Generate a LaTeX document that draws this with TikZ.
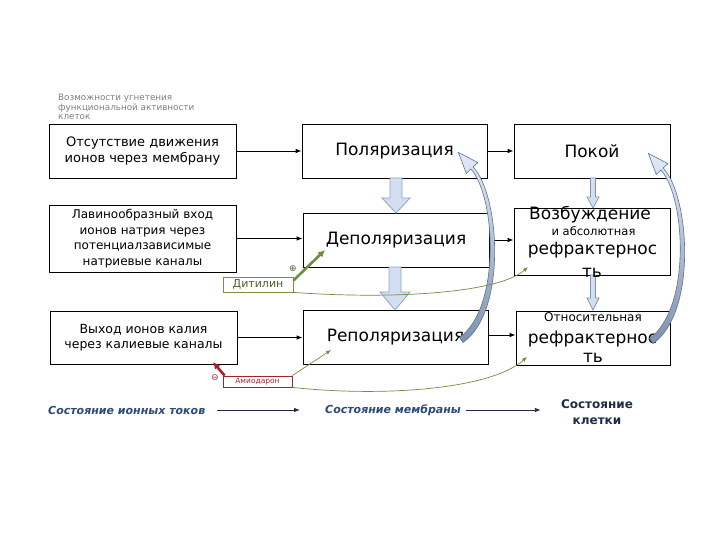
\documentclass[tikz,border=0pt]{standalone}
\usepackage{fontspec}
\setmainfont{DejaVu Sans}
\usetikzlibrary{arrows.meta,calc}
\definecolor{bfill}{HTML}{D3DEF1}
\definecolor{bedge}{HTML}{8FA3C4}
\definecolor{ctop}{HTML}{E2EAF7}
\definecolor{cbot}{HTML}{7F92AE}
\definecolor{cedge}{HTML}{5E7392}
\definecolor{grn}{HTML}{6E8F40}
\definecolor{grnbox}{HTML}{77933C}
\definecolor{grntxt}{HTML}{4F6228}
\definecolor{dred}{HTML}{A2232B}
\definecolor{navy}{HTML}{2F4A7A}
\definecolor{navyd}{HTML}{1E2C4A}
\tikzset{
  box/.style={draw=black, line width=0.8pt, inner sep=0pt, align=center},
  t17/.style={font=\fontsize{17}{20}\selectfont, inner sep=0pt},
  t12/.style={font=\fontsize{11.5}{14}\selectfont, inner sep=0pt},
  harr/.style={-{Latex[length=6pt,width=4.5pt]}, line width=0.8pt},
  barrow/.style={fill=bfill, draw=bedge, line width=0.8pt},
  sarrow/.style={fill=bfill, draw=bedge!90!black, line width=0.7pt},
  carrow/.style={top color=ctop, bottom color=cbot, draw=cedge, line width=0.6pt},
  gthin/.style={draw=grn, line width=0.7pt, -{Latex[length=5pt,width=4pt]}},
  gthick/.style={draw=grn, line width=2.6pt, -{Latex[length=7pt,width=7pt]}},
  rthick/.style={draw=dred, line width=2.6pt, -{Latex[length=7pt,width=7pt]}},
  lbl/.style={font=\fontsize{11}{13}\selectfont\bfseries\itshape, text=navy, inner sep=0pt},
  barr/.style={-{Latex[length=6pt,width=4.5pt]}, line width=0.8pt, draw=navyd}
}
\newcommand\curvarr[2]{%
  \begin{scope}[shift={(#1,#2)}]
    \path[carrow] (459.5,337.5) -- (463,342.5)
      .. controls (507,312) and (500,195) .. (473.1,167)
      -- (477.8,162.6) -- (458.4,152.4) -- (466.2,173.4) -- (470.9,169)
      .. controls (496,197) and (501,308) .. (459.5,337.5) -- cycle;
  \end{scope}}
\begin{document}
\begin{tikzpicture}[x=1pt,y=-1pt]
\useasboundingbox[fill=white] (0,0) rectangle (720,540);

% top-left note
\node[anchor=north west, align=left, inner sep=0pt, text=gray,
      font=\fontsize{8.8}{9.6}\selectfont] (note) at (58,94)
  {Возможности угнетения\\функциональной активности\\клеток};

% left column
\node[box, minimum width=187pt, minimum height=54pt, font=\fontsize{13}{16.5}\selectfont] (a) at (142.5,151)
  {Отсутствие движения\\ионов через мембрану};
\node[box, minimum width=187pt, minimum height=67pt, font=\fontsize{12}{15.5}\selectfont] (b) at (142.5,238.5)
  {Лавинообразный вход\\ионов натрия через\\потенциалзависимые\\натриевые каналы};
\node[box, minimum width=187pt, minimum height=53pt, font=\fontsize{12.5}{15}\selectfont] (c) at (143.5,337.5)
  {Выход ионов калия\\через калиевые каналы};

% middle column
\node[box, minimum width=185pt, minimum height=54pt, font=\fontsize{17}{20}\selectfont] (pol) at (394.5,151) {Поляризация};
\node[box, minimum width=186pt, minimum height=54pt, font=\fontsize{17}{20}\selectfont] (dep) at (396,240) {Деполяризация};
\node[box, minimum width=185pt, minimum height=54pt, font=\fontsize{17}{20}\selectfont] (rep) at (395.5,337) {Реполяризация};

% right column
\node[box, minimum width=156pt, minimum height=54pt, font=\fontsize{17}{20}\selectfont] (pok) at (592,151) {Покой};
\node[box, minimum width=156pt, minimum height=67pt] (voz) at (592,241.5) {};
\node[box, minimum width=154pt, minimum height=54pt] (otn) at (593,338) {};

% block arrows
\path[barrow] (390,178) -- (402,178) -- (402,198) -- (410,198) -- (396,213) -- (382,198) -- (390,198) -- cycle;
\path[barrow] (389,267) -- (401,267) -- (401,292) -- (410,292) -- (395,310) -- (380,292) -- (389,292) -- cycle;
\path[sarrow] (590.5,178) -- (595.5,178) -- (595.5,197) -- (599,197) -- (593,208) -- (587,197) -- (590.5,197) -- cycle;
\path[sarrow] (590.5,275) -- (595.5,275) -- (595.5,298) -- (599,298) -- (593,310) -- (587,298) -- (590.5,298) -- cycle;

% texts in right boxes
\node[t17, anchor=base] (voz1) at (590,219) {Возбуждение};
\node[t12, anchor=base] (voz2) at (593.5,236) {и абсолютная};
\node[t17, anchor=base] (voz3) at (592.5,254.5) {рефрактернос};
\node[t17, anchor=base] (voz4) at (592,277.5) {ть};
\node[font=\fontsize{12}{14}\selectfont, inner sep=0pt, anchor=base] (otn1) at (593,321) {Относительная};
\node[t17, anchor=base] (otn2) at (592.5,343.5) {рефрактернос};
\node[t17, anchor=base] (otn3) at (593,362.5) {ть};

% horizontal arrows
\draw[harr] (a.east) -- (pol.west);
\draw[harr] (b.east) -- (b.east -| dep.west);
\draw[harr] (c.east) -- (c.east -| rep.west);
\draw[harr] (pol.east) -- (pol.east -| pok.west);
\draw[harr] (dep.east) -- (dep.east -| voz.west);
\draw[harr] ([yshift=2pt]rep.east) -- ([yshift=2pt]rep.east -| otn.west);

% curved arrows
\curvarr{0}{0}
\curvarr{190}{1}

% drugs
\node[draw=grnbox, line width=0.8pt, minimum width=70pt, minimum height=15pt, inner sep=0pt,
      text=grntxt, font=\fontsize{11}{13}\selectfont] (dit) at (258,284.5) {Дитилин};
\node[draw=dred, line width=0.8pt, minimum width=69pt, minimum height=11pt, inner sep=0pt,
      text=dred, font=\fontsize{7.5}{9}\selectfont] (amio) at (257.5,381.5) {Амиодарон};

\coordinate (depT) at (325,250);
\coordinate (vozT) at (528,267);
\coordinate (repT) at (331,350);
\coordinate (otnT) at (527,357);
\coordinate (cT) at (213,362);

\draw[gthick] ([yshift=4pt]dit.east) -- (depT);
\node[text=grntxt, font=\fontsize{9}{10}\selectfont, inner sep=0pt] (plus) at (293,269) {⊕};
\draw[gthin] (dit.south east) .. controls (400,300) and (500,292) .. (vozT);

\draw[rthick] ([xshift=2pt]amio.north west) -- (cT);
\node[text=dred, font=\fontsize{9}{10}\selectfont, inner sep=0pt] (minus) at (215,378) {⊖};
\draw[gthin] (amio.north east) -- (repT);
\draw[gthin] (amio.south east) .. controls (380,397) and (490,390) .. (otnT);

% bottom legend
\node[lbl, anchor=west] (ion) at (48,410) {Состояние ионных токов};
\node[lbl, anchor=west] (mem) at (325,410) {Состояние мембраны};
\node[align=center, inner sep=0pt, text=navyd, font=\fontsize{12}{16}\selectfont\bfseries] (cell) at (597,412) {Состояние\\клетки};
\draw[barr] ([xshift=12pt]ion.east) -- ([xshift=-25pt]mem.west);
\draw[barr] ([xshift=5pt]mem.east) -- ([xshift=-20pt]mem.east -| cell.west);
\end{tikzpicture}
\end{document}
